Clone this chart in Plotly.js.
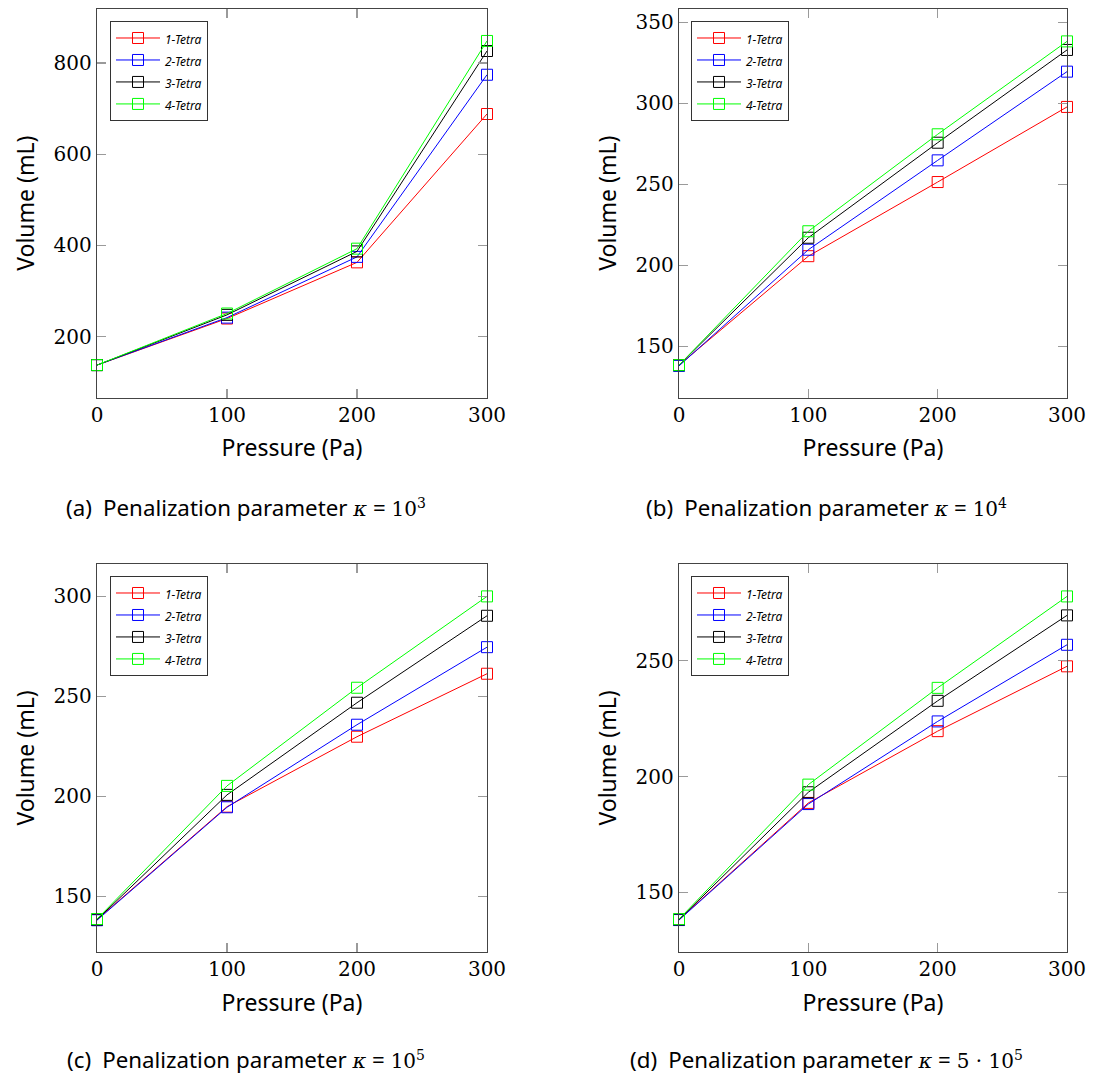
<!DOCTYPE html>
<html>
<head>
<meta charset="utf-8">
<script src="https://cdn.plot.ly/plotly-3.0.1.min.js"></script>
<style>html,body{margin:0;padding:0;background:#fff;} #chart{width:1093px;height:1082px;}</style>
</head>
<body>
<div id="chart"></div>
<script>
// ---- data ----
const pressure = [0, 100, 200, 300];
const seriesNames = ['1-Tetra', '2-Tetra', '3-Tetra', '4-Tetra'];
const seriesColors = ['#ff0000', '#0000ff', '#000000', '#00ff00'];

// (a) kappa = 10^3
const volA_1Tetra = [138, 240, 363, 688];
const volA_2Tetra = [138, 242, 375, 774];
const volA_3Tetra = [138, 248, 387, 826];
const volA_4Tetra = [138, 251, 393, 848];
// (b) kappa = 10^4
const volB_1Tetra = [138.3, 205.6, 251.4, 297.8];
const volB_2Tetra = [137.8, 209.6, 264.8, 319.6];
const volB_3Tetra = [138.3, 217.0, 275.7, 333.0];
const volB_4Tetra = [138.3, 221.0, 280.9, 338.3];
// (c) kappa = 10^5
const volC_1Tetra = [138.3, 194.8, 229.8, 261.3];
const volC_2Tetra = [138.0, 194.5, 235.8, 274.6];
const volC_3Tetra = [138.3, 200.7, 246.8, 290.3];
const volC_4Tetra = [138.6, 205.2, 254.3, 300.0];
// (d) kappa = 5*10^5
const volD_1Tetra = [138.2, 188.6, 219.6, 247.6];
const volD_2Tetra = [138.0, 188.1, 223.8, 256.9];
const volD_3Tetra = [138.2, 193.2, 232.7, 269.6];
const volD_4Tetra = [138.4, 196.5, 238.3, 277.8];

const xTickVals = [0, 100, 200, 300];
const yTicksA = [200, 400, 600, 800];
const yTicksBCD = [150, 200, 250, 300, 350];

const SERIF = "font-family:DejaVu Serif";
const kap = '<span style="' + SERIF + ';font-size:21px"><i>κ</i></span>';
const captions = [
  '(a)\u2002Penalization parameter ' + kap + ' = <span style="' + SERIF + ';font-size:20px">10<sup>3</sup></span>',
  '(b)\u2002Penalization parameter ' + kap + ' = <span style="' + SERIF + ';font-size:20px">10<sup>4</sup></span>',
  '(c)\u2002Penalization parameter ' + kap + ' = <span style="' + SERIF + ';font-size:20px">10<sup>5</sup></span>',
  '(d)\u2002Penalization parameter ' + kap + ' = <span style="' + SERIF + ';font-size:20px">5 · 10<sup>5</sup></span>'
];

// ---- build ----
const panels = [
  {data: [volA_1Tetra, volA_2Tetra, volA_3Tetra, volA_4Tetra], xa: 'x', ya: 'y', leg: 'legend'},
  {data: [volB_1Tetra, volB_2Tetra, volB_3Tetra, volB_4Tetra], xa: 'x2', ya: 'y2', leg: 'legend2'},
  {data: [volC_1Tetra, volC_2Tetra, volC_3Tetra, volC_4Tetra], xa: 'x3', ya: 'y3', leg: 'legend3'},
  {data: [volD_1Tetra, volD_2Tetra, volD_3Tetra, volD_4Tetra], xa: 'x4', ya: 'y4', leg: 'legend4'}
];

const traces = [];
panels.forEach(p => {
  p.data.forEach((vals, i) => {
    traces.push({
      type: 'scatter', mode: 'lines+markers',
      x: pressure, y: vals,
      name: '<span style="font-size:12px"><i>' + seriesNames[i] + '</i></span>',
      xaxis: p.xa, yaxis: p.ya, legend: p.leg,
      line: {color: seriesColors[i], width: 1},
      marker: {symbol: 'square-open', size: 11, color: seriesColors[i], line: {width: 1, color: seriesColors[i]}},
      cliponaxis: false
    });
  });
});

const W = 1093, H = 1082;
const colX = [[97, 487], [679, 1067]];
const rowY = [[9, 397.5], [564, 952]];
const px = (a) => [a[0] / W, a[1] / W];
const py = (a) => [1 - a[1] / H, 1 - a[0] / H];

const tickFont = {family: 'DejaVu Serif', size: 20, color: '#000'};
const titleFont = {family: 'Noto Sans', size: 23, color: '#000'};

function xAxis(dom, anchor) {
  return {
    domain: dom, anchor: anchor, range: [0, 300], tickvals: xTickVals,
    ticks: 'inside', ticklen: 9, tickcolor: '#9a9a9a', tickwidth: 1.3,
    showline: true, linecolor: '#444', linewidth: 1.2, mirror: 'ticks',
    showgrid: false, zeroline: false, tickfont: tickFont, ticklabelstandoff: -1,
    title: {text: 'Pressure (Pa)', font: titleFont, standoff: 14}
  };
}
function yAxis(dom, anchor, range, ticks) {
  return {
    domain: dom, anchor: anchor, range: range, tickvals: ticks,
    ticks: 'inside', ticklen: 9, tickcolor: '#9a9a9a', tickwidth: 1.3,
    showline: true, linecolor: '#444', linewidth: 1.2, mirror: 'ticks',
    showgrid: false, zeroline: false, tickfont: tickFont,
    title: {text: 'Volume (mL)', font: titleFont, standoff: 12}
  };
}
function legendAt(xpix, ypix) {
  return {
    x: xpix / W, y: 1 - ypix / H, xanchor: 'left', yanchor: 'top',
    xref: 'paper', yref: 'paper',
    bgcolor: '#fff', bordercolor: '#333', borderwidth: 1,
    font: {family: 'Noto Sans', size: 14.6, color: '#000'},
    itemwidth: 44, tracegroupgap: 0
  };
}

const layout = {
  width: W, height: H, margin: {l: 0, r: 0, t: 0, b: 0},
  paper_bgcolor: '#fff', plot_bgcolor: '#fff', showlegend: true,
  xaxis: xAxis(px(colX[0]), 'y'),
  yaxis: yAxis(py(rowY[0]), 'x', [67, 918], yTicksA),
  xaxis2: xAxis(px(colX[1]), 'y2'),
  yaxis2: yAxis(py(rowY[0]), 'x2', [118.3, 358.3], yTicksBCD),
  xaxis3: xAxis(px(colX[0]), 'y3'),
  yaxis3: yAxis(py(rowY[1]), 'x3', [122.1, 316.2], yTicksBCD),
  xaxis4: xAxis(px(colX[1]), 'y4'),
  yaxis4: yAxis(py(rowY[1]), 'x4', [124.2, 291.8], yTicksBCD),
  legend: legendAt(110, 21),
  legend2: legendAt(691, 21),
  legend3: legendAt(110, 576),
  legend4: legendAt(691, 576),
  annotations: [
    {text: captions[0], x: 246 / W, y: 1 - 507 / H},
    {text: captions[1], x: 826 / W, y: 1 - 507 / H},
    {text: captions[2], x: 246 / W, y: 1 - 1059 / H},
    {text: captions[3], x: 826 / W, y: 1 - 1059 / H}
  ].map(a => Object.assign(a, {xref: 'paper', yref: 'paper', xanchor: 'center', yanchor: 'middle', showarrow: false,
    font: {family: 'Noto Sans', size: 22.3, color: '#000'}}))
};

Plotly.newPlot('chart', traces, layout, {displayModeBar: false, staticPlot: true});
</script>
</body>
</html>
